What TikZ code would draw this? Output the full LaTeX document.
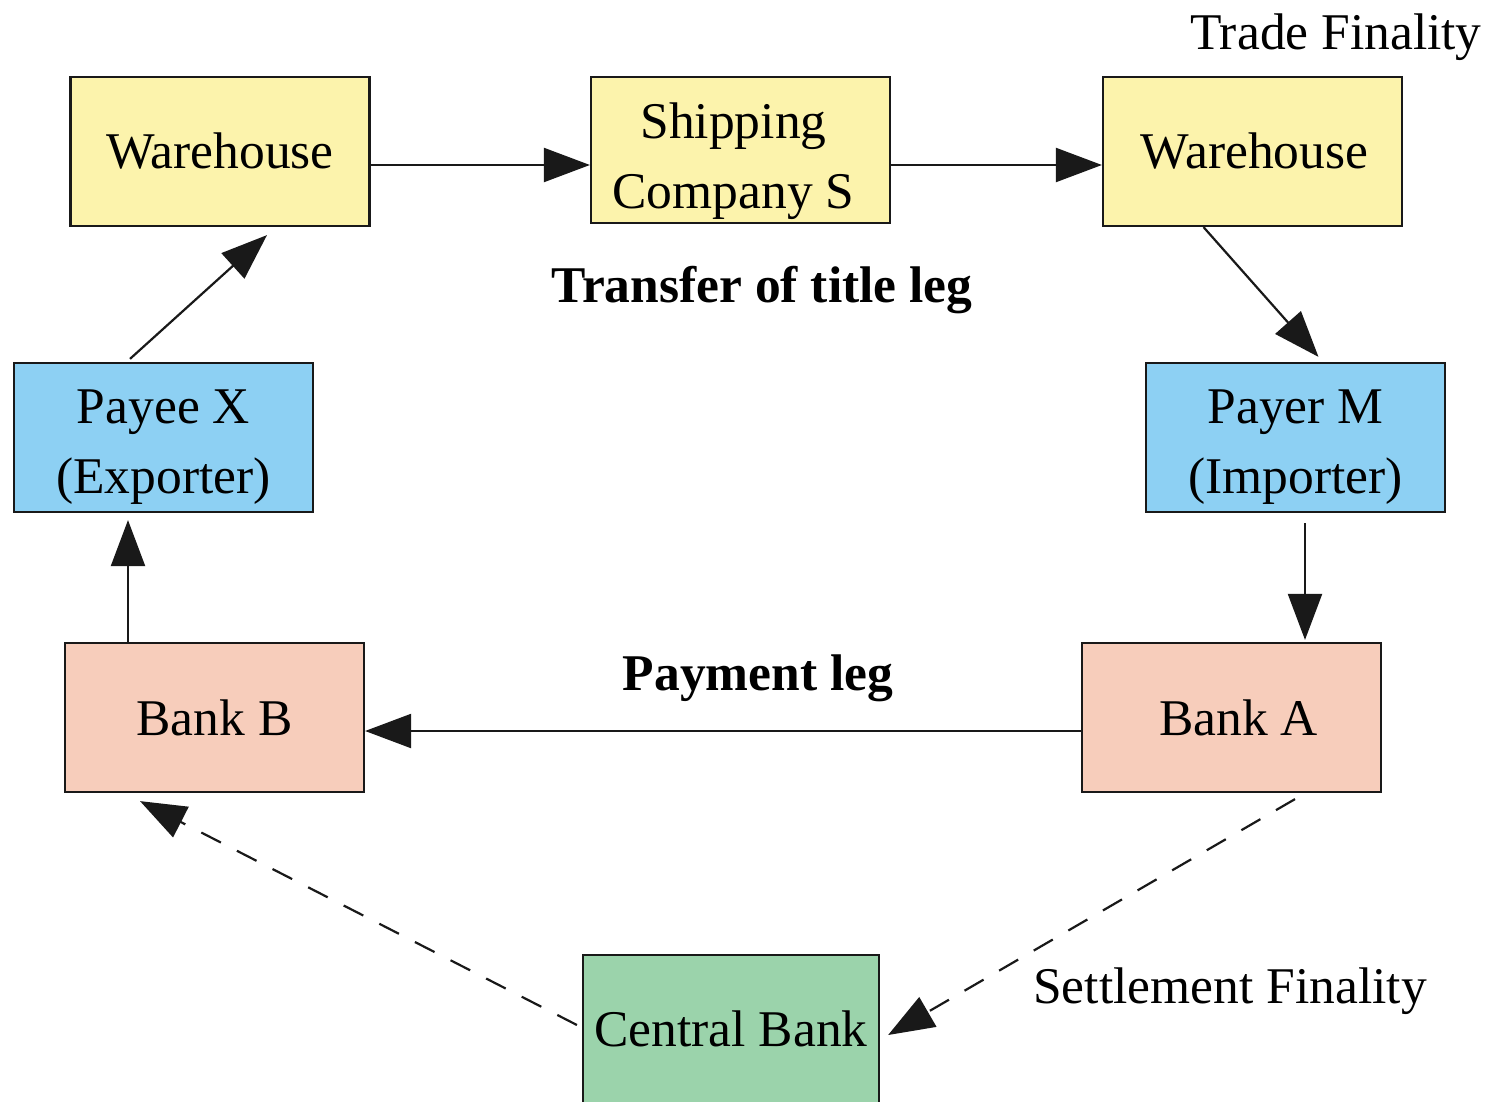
\documentclass[tikz,border=0pt]{standalone}
\usepackage{fontspec}
\setmainfont{Liberation Serif}
\usetikzlibrary{arrows.meta,calc}

\definecolor{goodsfill}{RGB}{252,243,172}
\definecolor{partyfill}{RGB}{141,208,243}
\definecolor{bankfill}{RGB}{247,205,187}
\definecolor{cbfill}{RGB}{155,211,171}
\definecolor{edge}{RGB}{25,25,25}

% strut that pushes a two-line label a little lower in its box
\newcommand\padtop[1]{\rule{0pt}{#1}}

\tikzset{
  box/.style={draw=edge, line width=2.2pt, minimum width=299pt, minimum height=149pt,
    inner sep=0pt, align=center, font=\fontsize{51.5}{70}\selectfont},
  goods/.style={box, fill=goodsfill},
  party/.style={box, fill=partyfill},
  bank/.style={box, fill=bankfill},
  central/.style={box, fill=cbfill},
  flow/.style={draw=edge, line width=2.2pt, -{Triangle[length=46pt,width=34pt]}},
  settle/.style={flow, dash pattern=on 22pt off 18pt},
  caption/.style={anchor=base, inner sep=0pt, font=\fontsize{51.5}{60}\selectfont},
  legcaption/.style={caption, font=\fontsize{51.5}{60}\selectfont\bfseries}
}

\begin{document}
\begin{tikzpicture}[x=1pt, y=-1pt]
  \useasboundingbox (0,0) rectangle (1491,1102);

  % goods side
  \node[goods] (wl) at (220,151.5) {Warehouse};
  \node[goods, minimum height=146pt] (sc) at (740.5,150)
    {\padtop{58pt}Shipping\hspace*{14pt}\\Company S\hspace*{14pt}};
  \node[goods] (wr) at (1252.5,151.5) {\hspace*{4pt}Warehouse};

  % trading parties
  \node[party] (px) at (163.5,437.5) {\padtop{52pt}Payee X\\(Exporter)};
  \node[party] (pm) at (1295.5,437.5) {\padtop{52pt}Payer M\\(Importer)};

  % commercial banks
  \node[bank] (bb) at (214.5,717.5) {Bank B};
  \node[bank] (ba) at (1231.5,717.5) {\hspace*{14pt}Bank A};

  % central bank
  \node[central, minimum width=296pt, minimum height=148pt] (cb) at (731,1029) {Central Bank};

  % captions
  \node[caption] (tf) at (1336,50) {Trade Finality};
  \node[legcaption] (tl) at (762,302) {Transfer of title leg};
  \node[legcaption] (pl) at (758,690) {Payment leg};
  \node[caption] (sf) at (1230,1003) {Settlement Finality};

  % transfer of title leg
  \draw[flow] ($(wl.east)+(0,13.5)$) coordinate (t1) -- (t1 -| sc.west);
  \draw[flow] ($(sc.east)+(0,15)$) coordinate (t2) -- (t2 -| wr.west);
  \draw[flow] ($(wr.south)+(-49,0)$) -- ($(pm.north)+(23,-5)$);
  \draw[flow] ($(pm.south)+(9.5,10)$) -- ($(ba.north)+(73.5,-2)$);

  % payment leg
  \draw[flow] ($(ba.west)+(0,13.5)$) coordinate (p1) -- (p1 -| bb.east);
  \draw[flow] ($(bb.north)+(-86.5,0)$) -- ($(px.south)+(-35.5,7)$);
  \draw[flow] ($(px.north)+(-33.5,-3)$) -- ($(wl.south)+(47,8)$);

  % settlement through the central bank
  \draw[settle] ($(ba.south)+(63.5,6)$) -- ($(cb.east)+(8,6)$);
  \draw[settle] ($(cb.west)+(-5,-4)$) -- ($(bb.south)+(-74.5,8)$);
\end{tikzpicture}
\end{document}
